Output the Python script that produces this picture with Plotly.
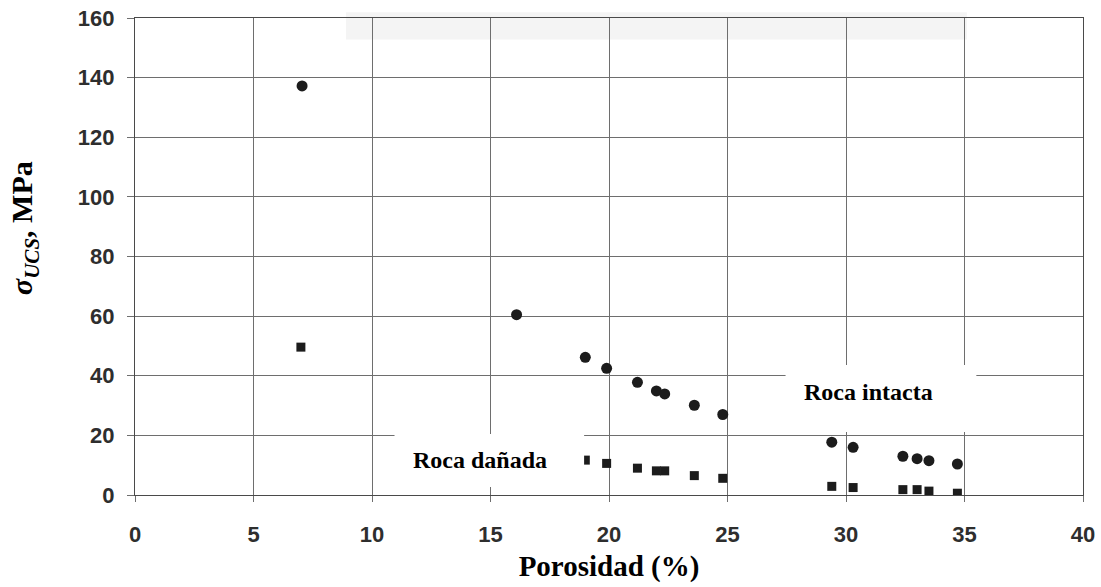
import plotly.graph_objects as go

# Porosity (%) and uniaxial compressive strength (MPa)
intact_porosity = [7.05, 16.1, 19.0, 19.9, 21.2, 22.0, 22.35, 23.6, 24.8, 29.4, 30.3, 32.4, 33.0, 33.5, 34.7]
intact_ucs = [137.2, 60.5, 46.2, 42.5, 37.8, 34.9, 33.9, 30.1, 27.0, 17.7, 16.0, 13.0, 12.2, 11.5, 10.4]

damaged_porosity = [7.0, 19.0, 19.9, 21.2, 22.0, 22.35, 23.6, 24.8, 29.4, 30.3, 32.4, 33.0, 33.5, 34.7]
damaged_ucs = [49.6, 11.7, 10.6, 9.0, 8.1, 8.1, 6.5, 5.6, 2.9, 2.5, 1.8, 1.8, 1.3, 0.6]

x_ticks = [0, 5, 10, 15, 20, 25, 30, 35, 40]
y_ticks = [0, 20, 40, 60, 80, 100, 120, 140, 160]

fig = go.Figure()

fig.add_trace(go.Scatter(
    x=intact_porosity, y=intact_ucs, mode="markers", name="Roca intacta",
    marker=dict(symbol="circle", size=11, color="#1c1c1c"),
    showlegend=False,
))
fig.add_trace(go.Scatter(
    x=damaged_porosity, y=damaged_ucs, mode="markers", name="Roca dañada",
    marker=dict(symbol="square", size=9, color="#1c1c1c"),
    showlegend=False,
))

# faint band along the top edge
fig.add_shape(type="rect", xref="x", yref="paper", x0=8.9, x1=35.1, y0=0.955, y1=1.012,
              fillcolor="#f4f4f4", line_width=0, layer="below")

# white label boxes over the grid
fig.add_shape(type="rect", xref="x", yref="y", x0=10.95, x1=18.95, y0=2.7, y1=20.5,
              fillcolor="white", line_width=0, layer="above")
fig.add_shape(type="rect", xref="x", yref="y", x0=27.45, x1=35.5, y0=21.1, y1=43.6,
              fillcolor="white", line_width=0, layer="above")

label_font = dict(family="Liberation Serif, Times New Roman, serif", size=24, color="black")
fig.add_annotation(x=14.56, y=11.7, text="<b>Roca dañada</b>", showarrow=False, font=label_font)
fig.add_annotation(x=30.93, y=34.5, text="<b>Roca intacta</b>", showarrow=False, font=label_font)

tick_font = dict(family="Liberation Sans, Arial, sans-serif", size=22, color="#2e2e2e", weight="bold")
title_font = dict(family="Liberation Serif, Times New Roman, serif", size=29, color="black")

# vertical axis title
fig.add_annotation(
    xref="paper", yref="paper", x=-0.117, y=0.56, xanchor="center", yanchor="middle",
    text="<b><i>σ</i><sub><i>UCS</i></sub>, MPa</b>", textangle=-90, showarrow=False,
    font=dict(family="Liberation Serif, Times New Roman, serif", size=30, color="black"),
)

fig.update_xaxes(
    range=[0, 40], tickvals=x_ticks, ticktext=[str(v) for v in x_ticks],
    showgrid=True, gridcolor="#6e6e6e", gridwidth=1,
    showline=True, linecolor="#4a4a4a", linewidth=1.3, mirror=True,
    ticks="outside", ticklen=6, tickcolor="#6e6e6e", ticklabelstandoff=13,
    zeroline=False, tickfont=tick_font, automargin=False,
    title=dict(text="<b>Porosidad (%)</b>", font=title_font, standoff=10),
)
fig.update_yaxes(
    range=[0, 160], tickvals=y_ticks, ticktext=[str(v) for v in y_ticks],
    showgrid=True, gridcolor="#6e6e6e", gridwidth=1,
    showline=True, linecolor="#4a4a4a", linewidth=1.3, mirror=True,
    ticks="outside", ticklen=7, tickcolor="#6e6e6e", ticklabelstandoff=8,
    zeroline=False, tickfont=tick_font, automargin=False,
)

fig.update_layout(
    width=1101, height=587,
    margin=dict(l=135, r=18, t=18, b=92),
    paper_bgcolor="white", plot_bgcolor="white",
)

fig.write_html("out.html")
